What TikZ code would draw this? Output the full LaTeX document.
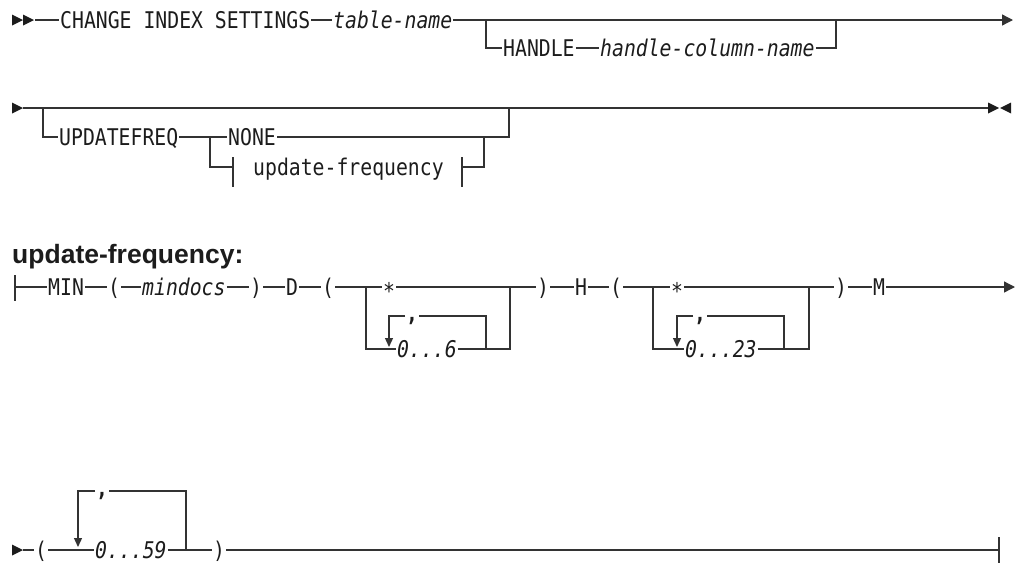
\documentclass[tikz,border=0pt]{standalone}
\usepackage{fontspec}
\usetikzlibrary{arrows.meta,positioning}
\newfontfamily\railfont{DejaVu Sans Mono}[FakeStretch=0.86]
\newfontfamily\headfont{Liberation Sans}
\definecolor{Ink}{HTML}{1C1C1C}
\definecolor{Rail}{HTML}{333333}
\newcommand{\railtext}{\railfont\fontsize{23pt}{25pt}\selectfont}
\newcommand{\railhead}{\headfont\bfseries\fontsize{26.5pt}{29pt}\selectfont}

\begin{document}
\begin{tikzpicture}[x=1pt, y=-1pt,
    kw/.style={font=\railtext, text=Ink, anchor=west, inner xsep=1pt, inner ysep=0pt, text height=20pt, text depth=4pt},
    var/.style={kw, font={\railtext\itshape}},
    sep/.style={kw, text height=17pt, text depth=7pt},
    track/.style={draw=Rail, line width=1.3pt},
    rep/.style={track, -{Triangle[length=9pt,width=8pt]}},
    fin/.style={track, -{Triangle[length=11pt,width=11pt]}},
    tri/.pic={\fill[Ink] (0,-5.5) -- (11,0) -- (0,5.5) -- cycle;}]
  \useasboundingbox (0,0) rectangle (1021,563);

  % statement, first line
  \pic at (12,20) {tri};
  \pic at (23,20) {tri};
  \coordinate (s1) at (35,20);
  \node[kw] (cis) at (59,20) {CHANGE INDEX SETTINGS};
  \node[var] (tn) at (332,20) {table-name};
  \coordinate (hb) at (486,20);
  \node[kw] (hdl) at (502,48) {HANDLE};
  \node[var] (hcn) at (599,48) {handle-column-name};
  \coordinate (hj) at (836,20);
  \coordinate (e1) at (1013,20);
  \draw[track] (s1) -- (cis);
  \draw[track] (cis) -- (tn);
  \draw[fin] (tn) -- (e1);
  \draw[track] (hb) |- (hdl);
  \draw[track] (hdl) -- (hcn);
  \draw[track] (hcn) -| (hj);

  % statement, second line
  \pic at (12,108) {tri};
  \coordinate (s2) at (23,108);
  \coordinate (ub) at (43,108);
  \node[kw] (uf) at (58,137) {UPDATEFREQ};
  \coordinate (cl) at (210,137);
  \node[kw] (none) at (227,137) {NONE};
  \coordinate (cr) at (484,137);
  \coordinate (uj) at (509,108);
  \coordinate (fl) at (233,167);
  \node[kw] (frag) at (252,167) {update-frequency};
  \coordinate (fr) at (462,167);
  \coordinate (e2) at (988,108);
  \pic at (988,108) {tri};
  \pic[xscale=-1] at (1011,108) {tri};
  \draw[track] (s2) -- (e2);
  \draw[track] (ub) |- (uf);
  \draw[track] (uf) -- (none);
  \draw[track] (none) -| (uj);
  \draw[track] (cl) |- (fl);
  \draw[track] (fl) ++(0,-10) -- ++(0,30);
  \draw[track] (fr) ++(0,-10) -- ++(0,30);
  \draw[track] (fr) -| (cr);

  % fragment
  \node[font=\railhead, text=Ink, anchor=base west, inner sep=0pt] (fh) at (12,263) {update-frequency:};
  \coordinate (s3) at (15,287);
  \draw[track] (s3) ++(0,-12) -- ++(0,26);
  \node[kw] (min) at (47,287) {MIN};
  \node[kw] (po1) at (107,287) {(};
  \node[var] (mdoc) at (141,287) {mindocs};
  \node[kw] (pc1) at (249,287) {)};
  \node[kw] (dk) at (285,287) {D};
  \node[kw] (po2) at (321,287) {(};
  \coordinate (dl) at (366,287);
  \node[kw] (dst) at (382,287) {\raisebox{-4pt}{*}};
  \coordinate (dr) at (510,287);
  \node[kw] (pc2) at (536,287) {)};
  \node[kw] (hk) at (574,287) {H};
  \node[kw] (po3) at (609,287) {(};
  \coordinate (hl) at (653,287);
  \node[kw] (hst) at (670,287) {\raisebox{-4pt}{*}};
  \coordinate (hr) at (809,287);
  \node[kw] (pc3) at (834,287) {)};
  \node[kw] (mk) at (872,287) {M};
  \coordinate (e3) at (1015,287);
  \draw[track] (s3) -- (min) -- (po1) -- (mdoc) -- (pc1) -- (dk) -- (po2) -- (dl) -- (dst) -- (dr)
    -- (pc2) -- (hk) -- (po3) -- (hl) -- (hst) -- (hr) -- (pc3) -- (mk);
  \draw[fin] (mk) -- (e3);

  % day list
  \node[var] (drg) at (396,349) {0...6};
  \node[sep] (dcm) at (405,316) {\textbf{,}};
  \coordinate (dlr) at (486,349);
  \coordinate (dll) at (389,347);
  \draw[track] (dl) |- (drg);
  \draw[track] (drg) -| (dr);
  \draw[track] (dlr) |- (dcm);
  \draw[rep] (dcm) -| (dll);

  % hour list
  \node[var] (hrg) at (684,349) {0...23};
  \node[sep] (hcm) at (693,316) {\textbf{,}};
  \coordinate (hlr) at (784,349);
  \coordinate (hll) at (677,347);
  \draw[track] (hl) |- (hrg);
  \draw[track] (hrg) -| (hr);
  \draw[track] (hlr) |- (hcm);
  \draw[rep] (hcm) -| (hll);

  % minute list
  \pic at (12,550) {tri};
  \coordinate (s4) at (23,550);
  \node[kw] (po4) at (34,550) {(};
  \node[var] (mrg) at (94,550) {0...59};
  \node[sep] (mcm) at (95,491) {\textbf{,}};
  \coordinate (mlr) at (186,550);
  \coordinate (mll) at (78,547);
  \node[kw] (pc4) at (212,550) {)};
  \coordinate (e4) at (999,550);
  \draw[track] (s4) -- (po4) -- (mrg) -- (pc4) -- (e4);
  \draw[track] (e4) ++(0,-13) -- ++(0,26);
  \draw[track] (mlr) |- (mcm);
  \draw[rep] (mcm) -| (mll);
\end{tikzpicture}
\end{document}
